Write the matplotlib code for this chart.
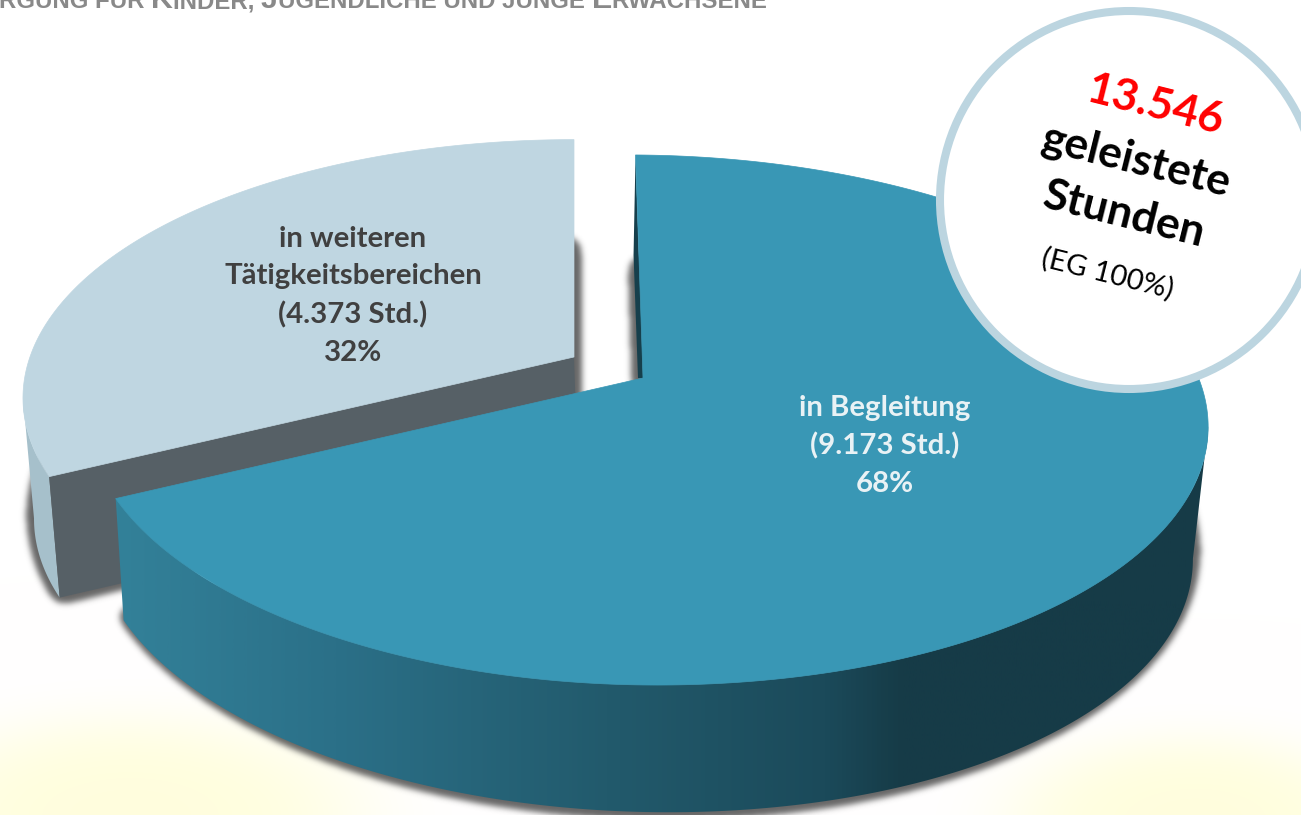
import numpy as np
import matplotlib
matplotlib.use("Agg")
import matplotlib.pyplot as plt
from matplotlib.path import Path
from matplotlib.patches import Polygon, Circle
from matplotlib.colors import LinearSegmentedColormap

# data
slice_names = ["in Begleitung", "in weiteren\nTätigkeitsbereichen"]
hours = [9173, 4373]
hour_labels = ["9.173", "4.373"]
percents = [68, 32]
total_label = "13.546"

W, H = 1301, 815
plt.rcParams["font.family"] = ["Lato", "DejaVu Sans"]

BLUE = "#3997b5"
PALE = "#bfd6e1"
CUT_GREY = "#566066"
PALE_WALL = "#a6c0cb"
RING = "#bcd5e0"

# pie shape in pixels (perspective circle)
K = 0.1585
RX, RY = 558, 258.3

fig = plt.figure(figsize=(W / 100, H / 100), dpi=100)
ax = fig.add_axes([0, 0, 1, 1])
ax.set_xlim(0, W)
ax.set_ylim(H, 0)
ax.axis("off")


def rim(deg, apex, scale=1.0, left=1.0, tilt=0.0):
    # deg runs clockwise from the top of the pie
    t = np.radians(deg)
    u, v = np.sin(t), -np.cos(t)
    d = 1 - K * v
    dx = scale * RX * u / d
    dx = np.where(dx < 0, dx * left, dx)
    return np.column_stack([apex[0] + dx, apex[1] + scale * RY * v / d + tilt * dx])


def lower(pts, apex, s_left, s_right, dy, tilt=0.0):
    out = pts.copy()
    dx = pts[:, 0] - apex[0]
    out[:, 0] = apex[0] + np.where(dx < 0, dx * s_left, dx * s_right)
    out[:, 1] = pts[:, 1] + dy + tilt * dx
    return out


def gauss(arr, sigma):
    fy = np.fft.fftfreq(arr.shape[0])[:, None]
    fx = np.fft.rfftfreq(arr.shape[1])[None, :]
    damp = np.exp(-2 * (np.pi * sigma) ** 2 * (fx ** 2 + fy ** 2))
    return np.fft.irfft2(np.fft.rfft2(arr) * damp, s=arr.shape)


def shadow(poly, strength=0.75):
    pad = 40
    xs = np.arange(-pad, W + pad) + 0.5
    ys = np.arange(-pad, H + pad) + 0.5
    gx, gy = np.meshgrid(xs, ys)
    mask = Path(poly).contains_points(np.column_stack([gx.ravel(), gy.ravel()])).reshape(gx.shape)
    # grow the shape a little, then soften it
    grown = gauss(mask.astype(float), 6.0) > 0.1
    a = np.clip(gauss(grown.astype(float), 3.0), 0, 1) * strength
    img = np.zeros((H, W, 4))
    img[..., :3] = 0.2
    img[..., 3] = a[pad:-pad, pad:-pad]
    ax.imshow(img, extent=(0, W, H, 0), zorder=2, aspect="auto", interpolation="bilinear")


def stretched(pts, sy):
    # keep the lowest edge, pull the top upwards
    out = pts.copy()
    bottom = pts[:, 1].max()
    out[:, 1] = bottom - (bottom - pts[:, 1]) * sy
    return out


# pale yellow glow behind the pie
gx, gy = np.meshgrid(np.arange(W), np.arange(H))
r_l = ((gx - 130) / 235.0) ** 2 + ((gy - 815) / 100.0) ** 2
r_r = ((gx - 1195) / 190.0) ** 2 + ((gy - 820) / 85.0) ** 2
glow = np.clip(np.exp(-r_l ** 2) + np.exp(-r_r ** 2), 0, 1)
bg = np.ones((H, W, 3))
bg[..., 2] = 1 - 0.13 * glow
bg[..., 1] = 1 - 0.004 * glow
ax.imshow(bg, extent=(0, W, H, 0), zorder=0, aspect="auto")

# angles come from the hours
sweep = [360.0 * h / sum(hours) for h in hours]
blue_start = -0.9
blue_end = blue_start + sweep[0]
grey_end = 360.0
grey_start = grey_end - sweep[1]

blue_apex = (643, 378)
grey_apex = (574, 357)
grey_scale = 0.975
BLUE_LEFT = 0.985
BLUE_TILT = 0.012
EDGE_DEG = 99.0  # where the rim is widest, the wall silhouette starts here


def blue_rim(deg):
    return rim(deg, blue_apex, 1.0, BLUE_LEFT, BLUE_TILT)


def blue_low(pts):
    return lower(pts, blue_apex, 0.985, 0.973, 127, 0.01)


def grey_rim(deg):
    return rim(deg, grey_apex, grey_scale)


def grey_low(pts):
    return lower(pts, grey_apex, 0.98, 0.98, 121)


blue_arc = blue_rim(np.linspace(blue_start, blue_end, 400))
grey_arc = grey_rim(np.linspace(grey_start, grey_end, 200))

# soft shadows under both slices
grey_apex_low = (grey_apex[0], grey_apex[1] + 121)
shadow(stretched(np.vstack([[grey_apex_low], grey_low(grey_arc)]), 1.05))
blue_apex_low = (blue_apex[0], blue_apex[1] + 127)
shadow(stretched(np.vstack([[blue_apex_low], blue_low(blue_arc)]), 1.035))

# grey slice: outer wall, cut face, top
wall_top = grey_rim(np.linspace(grey_start, 360 - EDGE_DEG, 60))
ax.add_patch(Polygon(np.vstack([wall_top, grey_low(wall_top)[::-1]]), fc=PALE_WALL, ec="none", zorder=3))
p_end = grey_arc[0]
cut = [p_end, grey_apex, (grey_apex[0] + 4, grey_apex[1] + 121), grey_low(grey_arc[:1])[0]]
ax.add_patch(Polygon(cut, fc=CUT_GREY, ec="none", zorder=3))
ax.add_patch(Polygon(np.vstack([[grey_apex], grey_arc]), fc=PALE, ec=PALE, lw=0.5, zorder=4))

# blue slice: gradient wall, dark sliver, top
w_top = blue_rim(np.linspace(EDGE_DEG, blue_end, 300))
wall_poly = Polygon(np.vstack([w_top, blue_low(w_top)[::-1]]), fc="none", ec="none", zorder=5)
ax.add_patch(wall_poly)
wall_cmap = LinearSegmentedColormap.from_list(
    "wall", [(0.0, "#338199"), (0.2, "#2b7088"), (0.45, "#225a6c"), (0.65, "#1b4a5a"), (0.72, "#163b47"), (1.0, "#163b47")])
grad = np.linspace(0, 1, 512)[None, :]
im = ax.imshow(grad, cmap=wall_cmap, extent=(115, 1210, 830, 380), zorder=5, aspect="auto", vmin=0, vmax=1)
im.set_clip_path(wall_poly)

p_start = blue_arc[0]
sliver = [p_start, blue_apex, (blue_apex[0] - 5, blue_apex[1]), (p_start[0] - 2, p_start[1] + 100)]
ax.add_patch(Polygon(sliver, fc="#163f4c", ec="none", zorder=5))
ax.add_patch(Polygon(np.vstack([[blue_apex], blue_arc]), fc=BLUE, ec=BLUE, lw=0.5, zorder=6))

# slice labels
blue_label = f"{slice_names[0]}\n({hour_labels[0]} Std.)\n{percents[0]}%"
grey_label = f"{slice_names[1]}\n({hour_labels[1]} Std.)\n{percents[1]}%"
ax.text(885, 446, blue_label, color="#e9f2f5", fontsize=21.2, fontweight="bold", ha="center", va="center",
        linespacing=1.55, zorder=8)
ax.text(353, 296, grey_label, color="#404040", fontsize=21.2, fontweight="bold", ha="center", va="center",
        linespacing=1.55, zorder=8)

# total badge
ax.add_patch(Circle((1129, 200), 189, fc="white", ec=RING, lw=5.8, zorder=9))
badge = dict(ha="center", va="center", rotation=-14, rotation_mode="anchor", zorder=10)
ax.text(1155, 105, total_label, color="#ff0000", fontsize=32, fontweight="bold", **badge)
ax.text(1137, 161, "geleistete", color="black", fontsize=32, fontweight="bold", **badge)
ax.text(1124, 214, "Stunden", color="black", fontsize=32, fontweight="bold", **badge)
ax.text(1108, 274, "(EG 100%)", color="black", fontsize=21, **badge)

# cropped small-caps heading at the top edge
pieces = [("RGUNG FÜR ", 17.3), ("K", 21.9), ("INDER, ", 17.3), ("J", 21.9),
          ("UGENDLICHE UND JUNGE ", 17.3), ("E", 21.9), ("RWACHSENE", 17.3)]
fig.canvas.draw()
rend = fig.canvas.get_renderer()
x_pos = -1.0
for piece, size in pieces:
    t = ax.text(x_pos, 8, piece, color="#898989", fontsize=size, fontweight="bold", family="Liberation Sans",
                ha="left", va="baseline", zorder=1)
    bb = t.get_window_extent(rend)
    x_pos = bb.x0 + bb.width

fig.savefig("out.png", dpi=100)
